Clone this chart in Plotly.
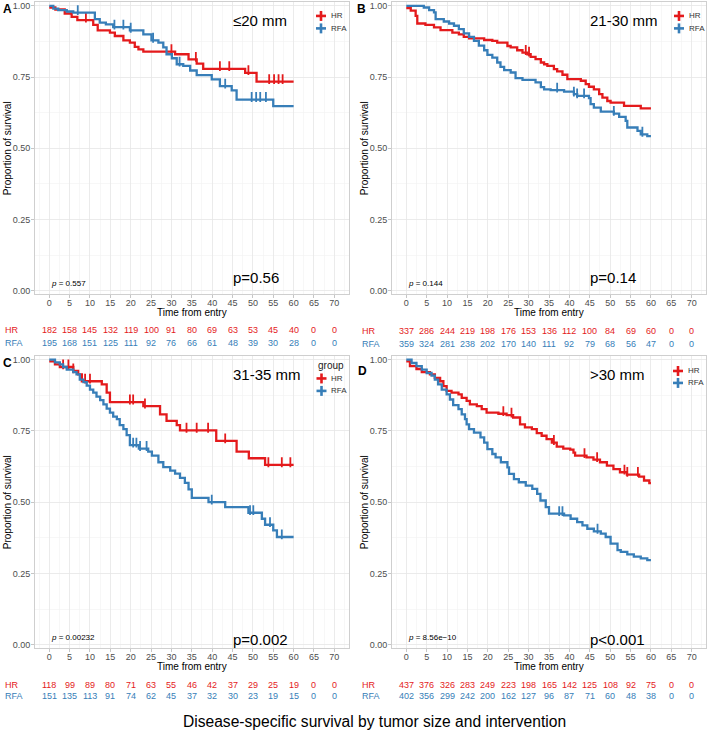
import plotly.graph_objects as go

W, H = 708, 736
RED = "#E41A1C"
BLUE = "#377EB8"
FONT = "Liberation Sans, Arial, sans-serif"

# ---------------- data ----------------
risk_times = [0, 5, 10, 15, 20, 25, 30, 35, 40, 45, 50, 55, 60, 65, 70]

panel_titles = ["≤20 mm", "21-30 mm", "31-35 mm", ">30 mm"]
p_rounded = ["p=0.56", "p=0.14", "p=0.002", "p<0.001"]
p_exact = ["0.557", "0.144", "0.00232", "8.56e\u221210"]
panel_letters = ["A", "B", "C", "D"]

# Panel A (<=20 mm)
A_HR_t = [0, 1.5, 3.8, 5.5, 6.9, 10.8, 11.9, 14.9, 16.1, 18.2, 19.8, 21.0, 21.9, 23.1, 30.9, 34.2, 36.2, 37.8, 48.1, 50.9, 60]
A_HR_s = [0.994, 0.987, 0.973, 0.961, 0.95, 0.933, 0.914, 0.906, 0.894, 0.879, 0.871, 0.856, 0.847, 0.839, 0.83, 0.812, 0.797, 0.779, 0.765, 0.734, 0.734]
A_HR_c = [9.0, 30.0, 36.0, 41.9, 44.2, 48.9, 54.0, 55.2, 56.3, 57.3]
A_RFA_t = [0, 1.0, 2.2, 4.3, 5.9, 11.2, 12.4, 13.9, 15.7, 19.8, 23.1, 25.1, 26.8, 28.0, 28.8, 30.1, 31.3, 32.9, 34.6, 36.2, 39.9, 41.9, 44.8, 46.0, 55.0, 60]
A_RFA_s = [1.0, 0.99, 0.985, 0.98, 0.976, 0.953, 0.941, 0.935, 0.925, 0.914, 0.90, 0.879, 0.871, 0.854, 0.83, 0.816, 0.795, 0.789, 0.773, 0.757, 0.742, 0.718, 0.703, 0.671, 0.648, 0.648]
A_RFA_c = [7.0, 16.0, 18.2, 20.0, 25.5, 32.0, 43.2, 49.7, 50.8, 51.8, 53.2]
A_HR_risk = [182, 158, 145, 132, 119, 100, 91, 80, 69, 63, 53, 45, 40, 0, 0]
A_RFA_risk = [195, 168, 151, 125, 111, 92, 76, 66, 61, 48, 39, 30, 28, 0, 0]

# Panel B (21-30 mm)
B_HR_t = [0, 1.1, 2.3, 2.7, 4.7, 6.8, 8.4, 11.3, 12.9, 14.1, 15.4, 19.1, 21.1, 22.3, 24.8, 25.6, 27.2, 28.5, 29.7, 30.5,
          31.7, 33.0, 33.8, 34.6, 36.2, 37.0, 38.3, 39.5, 42.8, 44.0, 44.8, 46.0, 47.3, 48.1, 49.3, 50.1, 53.4, 57.5, 60]
B_HR_s = [0.992, 0.983, 0.965, 0.938, 0.933, 0.924, 0.915, 0.906, 0.90, 0.891, 0.886, 0.880, 0.877, 0.871, 0.859, 0.854, 0.844, 0.836, 0.830, 0.821,
          0.813, 0.801, 0.795, 0.789, 0.778, 0.77, 0.758, 0.743, 0.737, 0.725, 0.716, 0.707, 0.69, 0.678, 0.666, 0.66, 0.649, 0.64, 0.64]
B_HR_c = [29.3, 30.1]
B_RFA_t = [0, 4.3, 5.6, 6.8, 7.2, 9.2, 10.5, 11.7, 12.9, 14.1, 15.4, 16.6, 17.8, 19.1, 19.9, 21.1, 22.3, 23.1, 24.0, 25.6,
           26.8, 28.5, 31.7, 33.0, 33.8, 35.4, 38.7, 41.1, 41.9, 44.8, 45.2, 46.0, 47.7, 50.9, 52.2, 53.8, 54.2, 56.7, 57.5, 59.1, 60]
B_RFA_s = [1.0, 0.994, 0.985, 0.977, 0.953, 0.945, 0.938, 0.93, 0.918, 0.903, 0.891, 0.877, 0.86, 0.844, 0.828, 0.818, 0.801, 0.786, 0.774, 0.766,
           0.746, 0.74, 0.731, 0.715, 0.707, 0.704, 0.699, 0.69, 0.684, 0.676, 0.655, 0.643, 0.629, 0.622, 0.61, 0.596, 0.573, 0.561, 0.549, 0.543, 0.543]
B_RFA_c = [37.0, 41.1, 41.9, 43.6, 50.9, 57.9]
B_HR_risk = [337, 286, 244, 219, 198, 176, 153, 136, 112, 100, 84, 69, 60, 0, 0]
B_RFA_risk = [359, 324, 281, 238, 202, 170, 140, 111, 92, 79, 68, 56, 47, 0, 0]

# Panel C (31-35 mm)
C_HR_t = [0, 1.4, 2.6, 5.9, 7.1, 8.0, 12.9, 14.1, 14.9, 23.1, 27.2, 28.8, 31.3, 32.1, 41.0, 46.0, 49.0, 53.0, 60]
C_HR_s = [0.994, 0.983, 0.974, 0.96, 0.948, 0.924, 0.913, 0.884, 0.851, 0.837, 0.808, 0.785, 0.77, 0.752, 0.715, 0.677, 0.654, 0.631, 0.631]
C_HR_c = [3.4, 4.7, 5.9, 8.8, 10.0, 19.8, 20.6, 23.5, 33.7, 36.2, 39.0, 43.2, 53.8, 57.1, 59.2]
C_RFA_t = [0, 1.4, 2.6, 3.4, 4.3, 5.9, 6.7, 7.5, 8.4, 9.2, 10.0, 10.8, 11.6, 12.5, 13.3, 14.1, 14.9, 15.7, 16.6, 17.3, 18.2,
           19.0, 19.8, 22.0, 24.3, 25.2, 26.8, 28.0, 29.7, 30.9, 32.1, 33.3, 34.2, 35.0, 39.1, 43.2, 48.9, 52.2, 53.0, 55.0, 55.9, 60]
C_RFA_s = [1.0, 0.99, 0.983, 0.974, 0.965, 0.956, 0.948, 0.93, 0.921, 0.909, 0.895, 0.884, 0.87, 0.858, 0.843, 0.828, 0.814, 0.80, 0.791, 0.77, 0.756,
           0.735, 0.70, 0.688, 0.677, 0.663, 0.64, 0.623, 0.611, 0.60, 0.585, 0.568, 0.545, 0.515, 0.50, 0.483, 0.463, 0.442, 0.421, 0.401, 0.378, 0.378]
C_RFA_c = [20.6, 21.4, 22.3, 23.9, 39.9, 49.3, 50.1, 54.2, 57.1]
C_HR_risk = [118, 99, 89, 80, 71, 63, 55, 46, 42, 37, 29, 25, 19, 0, 0]
C_RFA_risk = [151, 135, 113, 91, 74, 62, 45, 37, 32, 30, 23, 19, 15, 0, 0]

# Panel D (>30 mm)
D_HR_t = [0, 0.9, 2.5, 3.8, 5.8, 7.0, 8.3, 9.1, 9.9, 11.1, 12.8, 13.6, 14.8, 15.6, 17.3, 18.5, 19.7, 22.6, 24.6, 26.2,
          27.9, 29.1, 30.8, 32.0, 33.2, 34.4, 35.7, 36.9, 38.5, 40.2, 41.0, 41.4, 44.2, 45.9, 47.5, 49.2, 50.8, 52.4, 54.1, 57.1, 58.3, 59.6, 60]
D_HR_s = [0.994, 0.977, 0.967, 0.956, 0.948, 0.936, 0.924, 0.907, 0.89, 0.884, 0.878, 0.866, 0.855, 0.843, 0.837, 0.826, 0.814, 0.81, 0.805, 0.797,
          0.773, 0.762, 0.756, 0.742, 0.733, 0.721, 0.709, 0.695, 0.688, 0.684, 0.674, 0.663, 0.657, 0.649, 0.64, 0.628, 0.616, 0.605, 0.597, 0.59, 0.576, 0.567, 0.567]
D_HR_c = [23.8, 25.8, 36.2, 43.7, 46.8, 53.5, 54.2, 56.8]
D_RFA_t = [0, 1.3, 2.5, 3.8, 5.0, 6.2, 7.0, 7.8, 8.7, 9.9, 10.7, 11.5, 12.8, 13.6, 14.4, 14.8, 15.4, 16.6, 18.2, 19.1, 19.9,
           21.1, 21.9, 23.2, 24.8, 25.2, 26.4, 27.6, 29.3, 30.9, 32.1, 32.9, 34.2, 35.0, 38.7, 40.3, 41.9, 43.2, 44.4, 46.0, 47.7,
           48.9, 50.1, 51.8, 52.6, 54.2, 55.8, 57.5, 59.1, 60]
D_RFA_s = [1.0, 0.988, 0.977, 0.965, 0.953, 0.944, 0.93, 0.913, 0.895, 0.878, 0.86, 0.84, 0.826, 0.808, 0.791, 0.773, 0.756, 0.744, 0.727, 0.709, 0.686,
           0.669, 0.657, 0.64, 0.622, 0.599, 0.581, 0.57, 0.558, 0.547, 0.529, 0.506, 0.483, 0.46, 0.454, 0.442, 0.43, 0.419, 0.407, 0.398, 0.39,
           0.378, 0.355, 0.332, 0.326, 0.317, 0.309, 0.303, 0.297, 0.297]
D_RFA_c = [37.5, 38.3, 46.9]
D_HR_risk = [437, 376, 326, 283, 249, 223, 198, 165, 142, 125, 108, 92, 75, 0, 0]
D_RFA_risk = [402, 356, 299, 242, 200, 162, 127, 96, 87, 71, 60, 48, 38, 0, 0]

groups = ["HR", "RFA"]
group_colors = [RED, BLUE]

curves = [
    [(A_HR_t, A_HR_s, A_HR_c), (A_RFA_t, A_RFA_s, A_RFA_c)],
    [(B_HR_t, B_HR_s, B_HR_c), (B_RFA_t, B_RFA_s, B_RFA_c)],
    [(C_HR_t, C_HR_s, C_HR_c), (C_RFA_t, C_RFA_s, C_RFA_c)],
    [(D_HR_t, D_HR_s, D_HR_c), (D_RFA_t, D_RFA_s, D_RFA_c)],
]
risks = [
    (A_HR_risk, A_RFA_risk),
    (B_HR_risk, B_RFA_risk),
    (C_HR_risk, C_RFA_risk),
    (D_HR_risk, D_RFA_risk),
]

# ---------------- layout geometry (pixels) ----------------
def px(x):
    return x / W


def py(y):
    return 1 - y / H


# panel boxes: (left, right, top, bottom) in pixels
boxes = [
    (35.0, 348.6, 1.4, 294.4),
    (392.0, 706.0, 1.4, 294.4),
    (35.0, 348.6, 356.6, 649.9),
    (392.0, 706.0, 356.6, 649.9),
]
letter_pos = [(7.5, 8), (361.5, 8), (7.5, 363), (362.5, 372)]
legend_cross = [(321, 15, 12.5, False), (679, 15, 12.5, False), (321.5, 379, 12.5, True), (678, 371.5, 12.0, False)]
risk_rows = [(330, 343.3), (331, 344), (686.7, 698.3), (686.7, 698.3)]
p_y = [0.045, 0.045, 0.018, 0.018]

fig = go.Figure()
annotations = []
shapes = []


def step_value(ts, ss, t):
    v = ss[0]
    for ti, si in zip(ts, ss):
        if ti <= t:
            v = si
    return v


for i in range(4):
    n = "" if i == 0 else str(i + 1)
    xa, ya = "x" + n, "y" + n
    l, r, t, b = boxes[i]
    grid = dict(showgrid=True, gridcolor="#E6E6E6", gridwidth=0.8, zeroline=False,
                showline=True, mirror=True, linecolor="#CFCFCF", linewidth=1,
                ticks="outside", ticklen=3, tickcolor="#B8B8B8", tickwidth=0.8,
                tickfont=dict(family=FONT, size=9, color="#4D4D4D"), fixedrange=True)
    fig.update_layout(**{
        "xaxis" + n: dict(domain=[px(l), px(r)], range=[-3.5, 73.5], anchor=ya,
                          tickmode="linear", tick0=0, dtick=5, ticklabelstandoff=-3,
                          minor=dict(dtick=2.5, tick0=0, showgrid=True, gridcolor="#F1F1F1", gridwidth=0.6, ticks=""),
                          **grid),
        "yaxis" + n: dict(domain=[py(b), py(t)], range=[-0.012, 1.012], anchor=xa,
                          tickmode="linear", tick0=0, dtick=0.25, tickformat=".2f", ticklabelstandoff=-1,
                          minor=dict(dtick=0.125, tick0=0, showgrid=True, gridcolor="#F1F1F1", gridwidth=0.6, ticks=""),
                          **grid),
    })

    for g in range(2):
        ts, ss, cs = curves[i][g]
        fig.add_trace(go.Scatter(x=ts, y=ss, mode="lines", line=dict(color=group_colors[g], width=2.3, shape="hv"),
                                 xaxis=xa, yaxis=ya, showlegend=False, hoverinfo="skip"))
        cy = [step_value(ts, ss, c) + 0.009 for c in cs]
        fig.add_trace(go.Scatter(x=cs, y=cy, mode="markers",
                                 marker=dict(symbol="line-ns-open", size=7, color=group_colors[g],
                                             line=dict(color=group_colors[g], width=1.8)),
                                 xaxis=xa, yaxis=ya, showlegend=False, hoverinfo="skip"))

    # in-panel texts
    annotations.append(dict(text=panel_titles[i], x=44.6, y=0.947, xref=xa, yref=ya, xanchor="left", yanchor="middle",
                            showarrow=False, font=dict(family=FONT, size=15, color="#000000")))
    annotations.append(dict(text=p_rounded[i], x=44.6, y=p_y[i], xref=xa, yref=ya, xanchor="left", yanchor="middle",
                            showarrow=False, font=dict(family=FONT, size=15, color="#000000")))
    annotations.append(dict(text="<i>p</i> = " + p_exact[i], x=0, y=0.027, xref=xa, yref=ya, xanchor="left", yanchor="middle",
                            showarrow=False, font=dict(family=FONT, size=8, color="#000000")))
    # axis titles
    annotations.append(dict(text="Time from entry", x=px((l + r) / 2), y=py(b + 18), xref="paper", yref="paper",
                            xanchor="center", yanchor="middle", showarrow=False,
                            font=dict(family=FONT, size=10, color="#000000")))
    annotations.append(dict(text="Proportion of survival", x=px(l - 28), y=py((t + b) / 2), xref="paper", yref="paper",
                            xanchor="center", yanchor="middle", textangle=-90, showarrow=False,
                            font=dict(family=FONT, size=10, color="#000000")))
    # panel letter
    lx, ly = letter_pos[i]
    annotations.append(dict(text="<b>" + panel_letters[i] + "</b>", x=px(lx), y=py(ly), xref="paper", yref="paper",
                            xanchor="center", yanchor="middle", showarrow=False,
                            font=dict(family=FONT, size=12, color="#000000")))
    # legend (manual, ggplot style)
    cx, cy0, gap, has_title = legend_cross[i]
    if has_title:
        annotations.append(dict(text="group", x=px(cx - 6), y=py(cy0 - 13), xref="paper", yref="paper",
                                xanchor="left", yanchor="middle", showarrow=False,
                                font=dict(family=FONT, size=10, color="#1A1A1A")))
    for g in range(2):
        yy = cy0 + g * gap
        shapes.append(dict(type="line", xref="paper", yref="paper", x0=px(cx - 5), x1=px(cx + 5), y0=py(yy), y1=py(yy),
                           line=dict(color=group_colors[g], width=2.6)))
        shapes.append(dict(type="line", xref="paper", yref="paper", x0=px(cx), x1=px(cx), y0=py(yy - 5), y1=py(yy + 5),
                           line=dict(color=group_colors[g], width=2.6)))
        annotations.append(dict(text=groups[g], x=px(cx + 7.5), y=py(yy), xref="paper", yref="paper",
                                xanchor="left", yanchor="middle", showarrow=False,
                                font=dict(family=FONT, size=8, color="#333333")))
    # risk table
    for g in range(2):
        ry = risk_rows[i][g]
        annotations.append(dict(text=groups[g], x=px(l - 32), y=py(ry), xref="paper", yref="paper",
                                xanchor="left", yanchor="middle", showarrow=False,
                                font=dict(family=FONT, size=9, color=group_colors[g])))
        for tt, val in zip(risk_times, risks[i][g]):
            annotations.append(dict(text=str(val), x=tt, y=py(ry), xref=xa, yref="paper",
                                    xanchor="center", yanchor="middle", showarrow=False,
                                    font=dict(family=FONT, size=9, color=group_colors[g])))

annotations.append(dict(text="Disease-specific survival by tumor size and intervention", x=px(374), y=py(723),
                        xref="paper", yref="paper", xanchor="center", yanchor="middle", showarrow=False,
                        font=dict(family=FONT, size=15.6, color="#000000")))

fig.update_layout(width=W, height=H, margin=dict(l=0, r=0, t=0, b=0),
                  paper_bgcolor="white", plot_bgcolor="white", showlegend=False,
                  annotations=annotations, shapes=shapes, font=dict(family=FONT))

fig.write_html("out.html", config={"displayModeBar": False, "staticPlot": True},
               post_script="document.body.style.margin='0';document.body.style.overflow='hidden';")
